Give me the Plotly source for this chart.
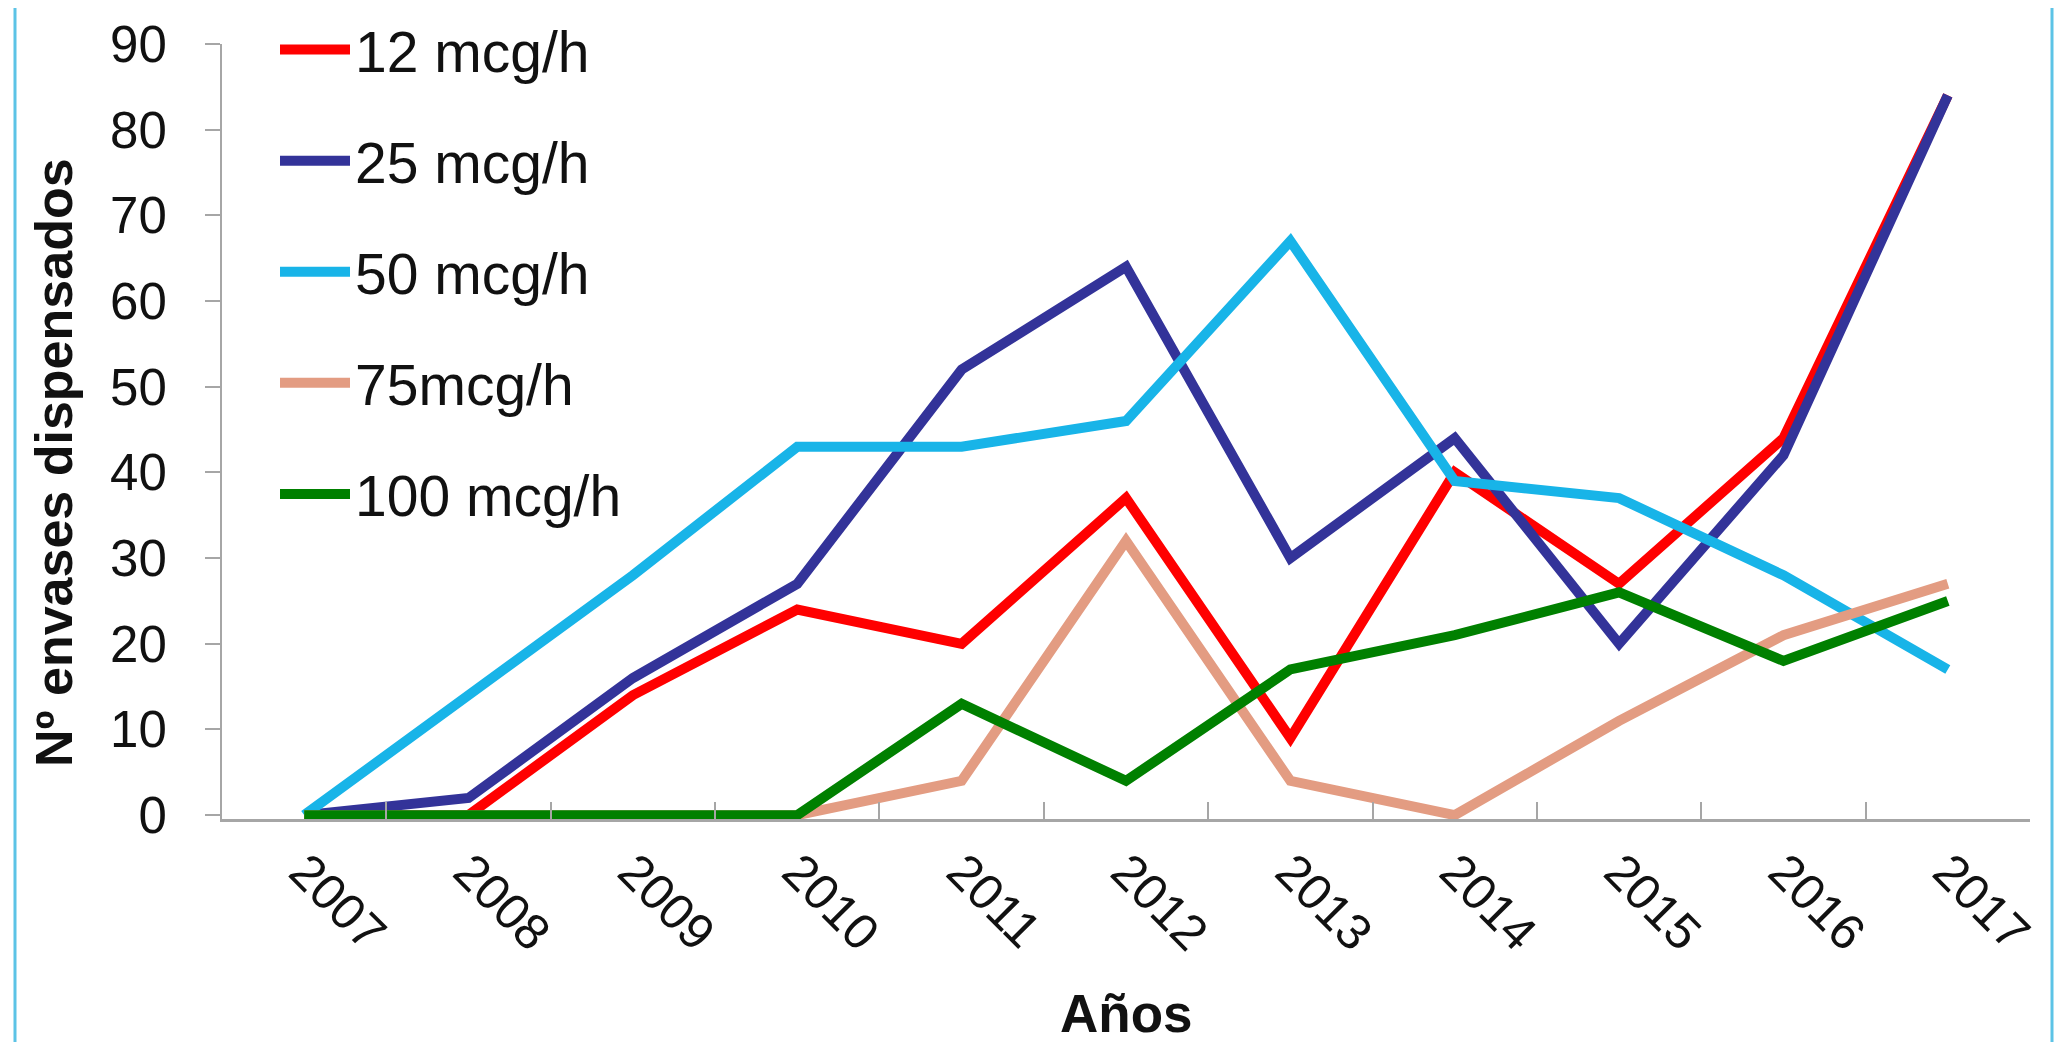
import plotly.graph_objects as go

years = ["2007", "2008", "2009", "2010", "2011", "2012", "2013", "2014", "2015", "2016", "2017"]
mcg12 = [0, 0, 14, 24, 20, 37, 9, 40, 27, 44, 84]
mcg25 = [0, 2, 16, 27, 52, 64, 30, 44, 20, 42, 84]
mcg50 = [0, 14, 28, 43, 43, 46, 67, 39, 37, 28, 17]
mcg75 = [0, 0, 0, 0, 4, 32, 4, 0, 11, 21, 27]
mcg100 = [0, 0, 0, 0, 13, 4, 17, 21, 26, 18, 25]

series_names = ["12 mcg/h", "25 mcg/h", "50 mcg/h", "75mcg/h", "100 mcg/h"]
series_values = [mcg12, mcg25, mcg50, mcg75, mcg100]
colors = ["#ff0000", "#333399", "#18b4e8", "#e39c82", "#008000"]

FONT = "Liberation Sans, Arial, sans-serif"

fig = go.Figure()
for name, vals, col in zip(series_names, series_values, colors):
    fig.add_trace(go.Scatter(
        x=years, y=vals, name=name, mode="lines",
        line=dict(color=col, width=10),
        legendgroup=name,
    ))

# page has an 8px body margin; figure coordinates = page coordinates - 8
W, H = 2046, 1034
L, R, T, B = 214, 24, 36, 223
pw = W - L - R
ph = H - T - B
bottom = H - B


def px(xp):
    return (xp - 8 - L) / pw


def py(yp):
    return (bottom - (yp - 8)) / ph


fig.update_layout(
    width=W, height=H,
    margin=dict(l=L, r=R, t=T, b=B, autoexpand=False),
    paper_bgcolor="white", plot_bgcolor="white",
    font=dict(family=FONT, color="#111111"),
    showlegend=True,
    legend=dict(
        x=px(275), xanchor="left",
        y=py(538), yanchor="bottom",
        font=dict(size=57, family=FONT, color="#111111"),
        bgcolor="rgba(0,0,0,0)",
        tracegroupgap=34,
        itemwidth=70,
    ),
    xaxis=dict(
        type="category",
        range=[-0.5, 10.5],
        showline=True, linecolor="#a6a6a6", linewidth=3,
        ticks="inside", ticklen=17, tickcolor="#a6a6a6", tickwidth=2,
        tickson="boundaries",
        tickangle=45,
        tickfont=dict(size=50, family=FONT, color="#111111"),
        ticklabelstandoff=0,
        showgrid=False, zeroline=False, automargin=False,
    ),
    yaxis=dict(
        range=[-0.45, 90],
        tickvals=[0, 10, 20, 30, 40, 50, 60, 70, 80, 90],
        showline=True, linecolor="#a6a6a6", linewidth=2,
        ticks="outside", ticklen=15, tickcolor="#a6a6a6", tickwidth=2,
        tickfont=dict(size=51, family=FONT, color="#111111"),
        ticklabelstandoff=28,
        showgrid=False, zeroline=False, automargin=False,
    ),
    annotations=[
        dict(text="<b>Nº envases dispensados</b>", textangle=-90,
             xref="paper", yref="paper",
             x=px(54), y=py(463),
             xanchor="center", yanchor="middle", showarrow=False,
             font=dict(size=52, family=FONT, color="#111111")),
        dict(text="<b>Años</b>",
             xref="paper", yref="paper",
             x=px(1126), y=py(1014),
             xanchor="center", yanchor="middle", showarrow=False,
             font=dict(size=53, family=FONT, color="#111111")),
    ],
    shapes=[
        dict(type="line", xref="paper", yref="paper",
             x0=px(15), x1=px(15), y0=-0.4, y1=1.1,
             line=dict(color="#5cc3e6", width=3)),
        dict(type="line", xref="paper", yref="paper",
             x0=px(2052), x1=px(2052), y0=-0.4, y1=1.1,
             line=dict(color="#5cc3e6", width=3)),
    ],
)

fig.write_html("out.html")
